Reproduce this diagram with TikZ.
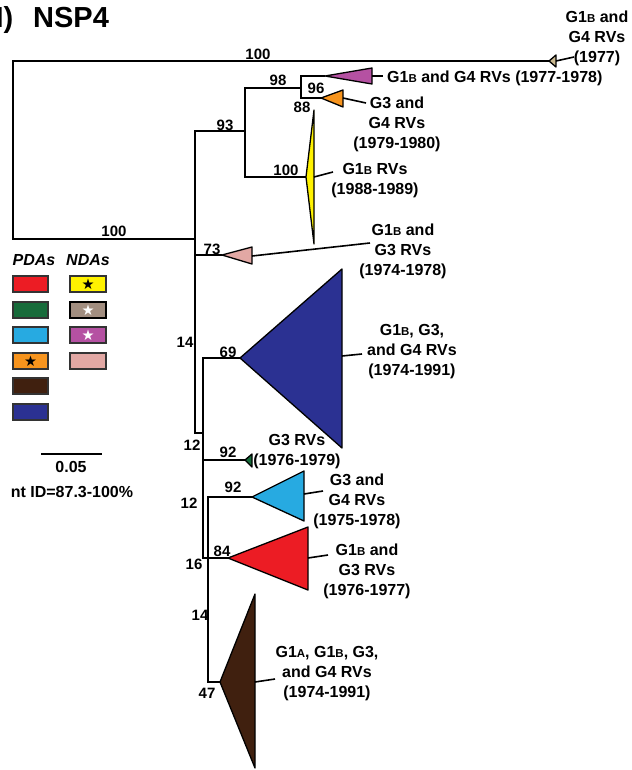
\documentclass[tikz,border=0pt]{standalone}
\usepackage{fontspec}
\setmainfont{Liberation Sans}
\newfontfamily\symfont{DejaVu Sans}
\usepackage{tikz}
\definecolor{cRed}{HTML}{EC1C24}
\definecolor{cGreen}{HTML}{176B3A}
\definecolor{cCyan}{HTML}{27AAE1}
\definecolor{cOrange}{HTML}{F7941D}
\definecolor{cBrown}{HTML}{40200F}
\definecolor{cNavy}{HTML}{2B3192}
\definecolor{cYellow}{HTML}{FFF200}
\definecolor{cTaupe}{HTML}{A28E80}
\definecolor{cMagenta}{HTML}{B551A2}
\definecolor{cPink}{HTML}{E2A8A4}
\definecolor{cTan}{HTML}{C9B88F}
\definecolor{boxline}{HTML}{333333}
\newcommand{\smc}[1]{{\fontsize{11.5}{11.5}\selectfont #1}}

\begin{document}
\begin{tikzpicture}[x=1pt,y=-1pt,
    every node/.style={inner sep=0pt},
    branch/.style={line width=1.7pt,line join=miter},
    clade/.style={draw=black,line width=1.3pt,line join=round},
    leader/.style={line width=1.6pt},
    boot/.style={font=\fontsize{15}{15}\selectfont\bfseries},
    grp/.style={font=\fontsize{16}{20}\selectfont\bfseries,align=center},
    keyhead/.style={font=\fontsize{16}{16}\selectfont\bfseries\itshape},
    keybox/.style={draw=boxline,line width=2pt},
    keystar/.style={font=\symfont\fontsize{14.5}{14.5}\selectfont}]
    \useasboundingbox (0,0) rectangle (631,770);

    \node[font=\fontsize{29}{29}\selectfont\bfseries,anchor=base east] (panel) at (13.5,28) {I)};
    \node[font=\fontsize{29}{29}\selectfont\bfseries,anchor=base west] (title) at (33,28) {NSP4};

    % tree
    \draw[branch] (549,61) -- (13,61) -- (13,239) -- (195,239);
    \draw[branch] (245,131) -- (195,131) -- (195,433) -- (203,433);
    \draw[branch] (222,255) -- (195,255);
    \draw[branch] (301,88) -- (245,88) -- (245,177) -- (306,177);
    \draw[branch] (325,76) -- (301,76) -- (301,98) -- (321,98);
    \draw[branch] (240,358) -- (203,358) -- (203,558) -- (228,558);
    \draw[branch] (245,460) -- (203,460);
    \draw[branch] (252,497) -- (208,497) -- (208,682) -- (220,682);

    % collapsed clades
    \filldraw[clade,fill=cTan] (549,61) -- (556,55) -- (556,67) -- cycle;
    \filldraw[clade,fill=cMagenta] (325,76) -- (372,68) -- (372,84) -- cycle;
    \filldraw[clade,fill=cOrange] (321,98) -- (343,90) -- (343,107) -- cycle;
    \filldraw[clade,fill=cYellow] (306,177) -- (314,110) -- (314,244) -- cycle;
    \filldraw[clade,fill=cPink] (222,255) -- (252,247) -- (252,264) -- cycle;
    \filldraw[clade,fill=cNavy] (240,358) -- (342,269) -- (342,448) -- cycle;
    \filldraw[clade,fill=cGreen] (245,460) -- (252,454) -- (252,467) -- cycle;
    \filldraw[clade,fill=cCyan] (252,497) -- (304,471) -- (304,521) -- cycle;
    \filldraw[clade,fill=cRed] (228,558) -- (308,527) -- (308,590) -- cycle;
    \filldraw[clade,fill=cBrown] (220,682) -- (255,594) -- (255,768) -- cycle;

    % bootstrap values
    \node[boot] (b1) at (258,54) {100};
    \node[boot] (b2) at (114,231) {100};
    \node[boot] (b3) at (225,125) {93};
    \node[boot] (b4) at (278,80) {98};
    \node[boot] (b5) at (316,88) {96};
    \node[boot] (b6) at (302,107) {88};
    \node[boot] (b7) at (286,170) {100};
    \node[boot] (b8) at (212,249) {73};
    \node[boot] (b9) at (185,342) {14};
    \node[boot] (b10) at (228,352) {69};
    \node[boot] (b11) at (192,445) {12};
    \node[boot] (b12) at (228,452) {92};
    \node[boot] (b13) at (189,503) {12};
    \node[boot] (b14) at (233,487) {92};
    \node[boot] (b15) at (222,551) {84};
    \node[boot] (b16) at (194,564) {16};
    \node[boot] (b17) at (200,615) {14};
    \node[boot] (b18) at (207,693) {47};

    % group labels
    \node[grp] (gTan) at (597,38.5) {G1\smc{B} and\\G4 RVs\\(1977)};
    \node[grp,anchor=west] (gMagenta) at (387,78.5) {G1\smc{B} and G4 RVs (1977-1978)};
    \node[grp] (gOrange) at (397,124.5) {G3 and\\G4 RVs\\(1979-1980)};
    \node[grp] (gYellow) at (375,181) {G1\smc{B} RVs\\(1988-1989)};
    \node[grp] (gPink) at (403,251.5) {G1\smc{B} and\\G3 RVs\\(1974-1978)};
    \node[grp] (gNavy) at (412,351.5) {G1\smc{B}, G3,\\and G4 RVs\\(1974-1991)};
    \node[grp] (gGreen) at (297,451.5) {G3 RVs\\(1976-1979)};
    \node[grp] (gCyan) at (357,501.5) {G3 and\\G4 RVs\\(1975-1978)};
    \node[grp] (gRed) at (367,571.5) {G1\smc{B} and\\G3 RVs\\(1976-1977)};
    \node[grp] (gBrown) at (327,673.5) {G1\smc{A}, G1\smc{B}, G3,\\and G4 RVs\\(1974-1991)};

    % leaders
    \coordinate (lTan) at (574,57);
    \coordinate (lMagenta) at (383,76);
    \coordinate (lOrange) at (366,103);
    \coordinate (lYellow) at (333,172);
    \coordinate (lPink) at (370,243);
    \coordinate (lNavy) at (362,354);
    \coordinate (lCyan) at (323,491);
    \coordinate (lRed) at (328,555);
    \coordinate (lBrown) at (275,679);
    \draw[leader] (556,61) -- (lTan);
    \draw[leader] (372,76) -- (lMagenta);
    \draw[leader] (343,98) -- (lOrange);
    \draw[leader] (314,177) -- (lYellow);
    \draw[leader] (252,256) -- (lPink);
    \draw[leader] (342,356) -- (lNavy);
    \draw[leader] (304,494) -- (lCyan);
    \draw[leader] (308,558) -- (lRed);
    \draw[leader] (255,682) -- (lBrown);

    % key
    \node[keyhead] (pda) at (34,260) {PDAs};
    \node[keyhead] (nda) at (88,260) {NDAs};
    \filldraw[keybox,fill=cRed] (13,276) rectangle (48,292);
    \filldraw[keybox,fill=cGreen] (13,302) rectangle (48,318);
    \filldraw[keybox,fill=cCyan] (13,327) rectangle (48,343);
    \filldraw[keybox,fill=cOrange] (13,353) rectangle (48,369);
    \filldraw[keybox,fill=cBrown] (13,378) rectangle (48,394);
    \filldraw[keybox,fill=cNavy] (13,404) rectangle (48,420);
    \filldraw[keybox,fill=cYellow] (70,276) rectangle (106,292);
    \filldraw[keybox,draw=black,line width=2.4pt,fill=cTaupe] (70,302) rectangle (106,318);
    \filldraw[keybox,fill=cMagenta] (70,327) rectangle (106,343);
    \filldraw[keybox,fill=cPink] (70,353) rectangle (106,369);
    \node[keystar] (sOrange) at (30.5,361.5) {★};
    \node[keystar] (sYellow) at (88,284.5) {★};
    \node[keystar,white] (sTaupe) at (88,310.5) {★};
    \node[keystar,white] (sMagenta) at (88,335.5) {★};

    % scale
    \coordinate (sc1) at (41,454);
    \coordinate (sc2) at (102,454);
    \draw[line width=1.8pt] (sc1) -- (sc2);
    \node[font=\fontsize{16}{16}\selectfont\bfseries] (scale) at (71,467) {0.05};
    \node[font=\fontsize{16}{16}\selectfont\bfseries] (ntid) at (72,492) {nt ID=87.3-100\%};
\end{tikzpicture}
\end{document}
